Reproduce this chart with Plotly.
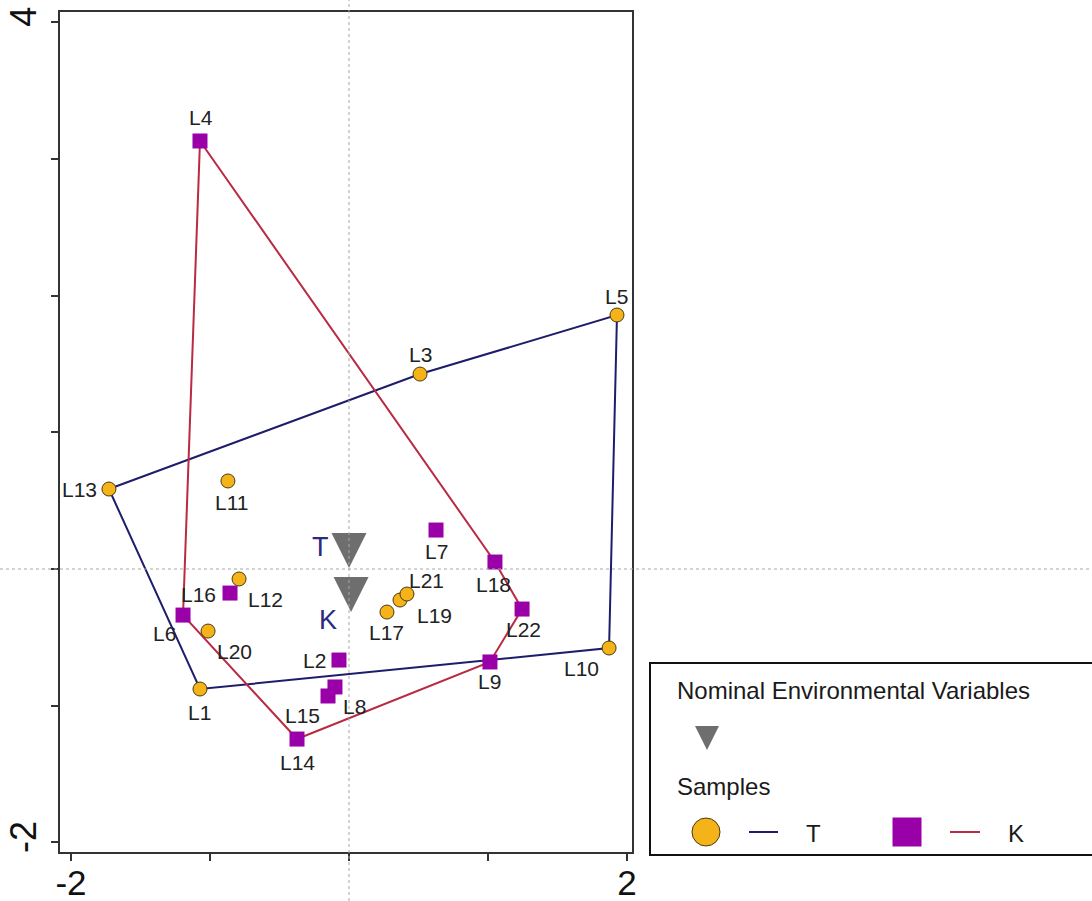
import plotly.graph_objects as go

# ---------------- data ----------------
t_names = ["L1", "L3", "L5", "L10", "L11", "L12", "L13", "L17", "L19", "L20", "L21"]
t_x = [-1.072, 0.511, 1.928, 1.871, -0.871, -0.791, -1.727, 0.273, 0.367, -1.014, 0.417]
t_y = [-0.878, 1.426, 1.858, -0.578, 0.644, -0.073, 0.585, -0.315, -0.227, -0.454, -0.183]

k_names = ["L2", "L4", "L6", "L7", "L8", "L9", "L14", "L15", "L16", "L18", "L22"]
k_x = [-0.072, -1.072, -1.194, 0.626, -0.101, 1.014, -0.374, -0.151, -0.856, 1.050, 1.245]
k_y = [-0.666, 3.131, -0.337, 0.285, -0.863, -0.680, -1.244, -0.929, -0.176, 0.051, -0.293]

t_hull = ["L13", "L3", "L5", "L10", "L1", "L13"]
k_hull = ["L4", "L18", "L22", "L9", "L14", "L6", "L4"]

env_names = ["T", "K"]
env_x = [0.0, 0.015]
env_y = [0.007, -0.315]

x_ticks = [-2, -1, 0, 1, 2]
x_ticktext = ["-2", "", "", "", "2"]
y_ticks = [-2, -1, 0, 1, 2, 3, 4]
y_ticktext = ["-2", "", "", "", "", "", "4"]

# ---------------- styles ----------------
FONT = "Liberation Sans, Arial, sans-serif"
C_CIRCLE = "#F5B31A"
C_SQUARE = "#9A00A8"
C_TLINE = "#1d1d6b"
C_KLINE = "#b92a43"
C_TRI = "#6e6e6e"
C_ENVTXT = "#2b2b7d"

label_offsets = {  # pixel offsets (dx, dy) from point centre to label centre
    "L1": (0, 23), "L2": (-24, 0), "L3": (0, -20), "L4": (1, -23), "L5": (0, -19),
    "L6": (-19, 18), "L7": (0, 21), "L8": (20, 20), "L9": (0, 20), "L10": (-28, 20),
    "L11": (4, 22), "L12": (26, 21), "L13": (-29, 0), "L14": (0, 23), "L15": (-26, 20),
    "L16": (-32, 1), "L17": (0, 20), "L18": (-1, 22), "L19": (34, 15), "L20": (26, 20),
    "L21": (20, -14), "L22": (1, 20),
}
env_label_offsets = {"T": (-29, -21), "K": (-23, 8)}

W, H = 1092, 901
PL, PR, PT, PB = 60, 632, 12, 852  # plot frame in pixels
X0PX, XUNIT = 349, 139.0
Y0PX, YUNIT = 569, 136.7

fig = go.Figure()

pos = {n: (x, y) for n, x, y in zip(t_names, t_x, t_y)}
pos.update({n: (x, y) for n, x, y in zip(k_names, k_x, k_y)})

# zero lines (dotted)
fig.add_shape(type="line", xref="x", yref="paper", x0=0, x1=0, y0=0, y1=1,
              line=dict(color="#a8a8a8", width=1, dash="dot"))
fig.add_shape(type="line", xref="paper", yref="y", x0=0, x1=1, y0=0, y1=0,
              line=dict(color="#a8a8a8", width=1, dash="dot"))

# hulls
fig.add_trace(go.Scatter(x=[pos[n][0] for n in t_hull], y=[pos[n][1] for n in t_hull],
                         mode="lines", line=dict(color=C_TLINE, width=2), hoverinfo="skip"))
fig.add_trace(go.Scatter(x=[pos[n][0] for n in k_hull], y=[pos[n][1] for n in k_hull],
                         mode="lines", line=dict(color=C_KLINE, width=2), hoverinfo="skip"))

# samples
fig.add_trace(go.Scatter(x=t_x, y=t_y, mode="markers", text=t_names,
                         marker=dict(symbol="circle", size=14, color=C_CIRCLE,
                                     line=dict(color="#4a3a10", width=1))))
fig.add_trace(go.Scatter(x=k_x, y=k_y, mode="markers", text=k_names,
                         marker=dict(symbol="square", size=15, color=C_SQUARE,
                                     line=dict(color=C_SQUARE, width=0))))

# nominal environmental variables
fig.add_trace(go.Scatter(x=env_x, y=env_y, mode="markers", text=env_names,
                         marker=dict(symbol="arrow-down", size=35, color=C_TRI,
                                     line=dict(width=0))))

annotations = []
for n, (x, y) in pos.items():
    dx, dy = label_offsets[n]
    annotations.append(dict(x=x, y=y, xref="x", yref="y", text=n, showarrow=False,
                            xshift=dx, yshift=-dy, xanchor="center", yanchor="middle",
                            font=dict(family=FONT, size=21, color="#222222")))
for n, x, y in zip(env_names, env_x, env_y):
    dx, dy = env_label_offsets[n]
    annotations.append(dict(x=x, y=y, xref="x", yref="y", text=n, showarrow=False,
                            xshift=dx, yshift=-dy, xanchor="center", yanchor="middle",
                            font=dict(family=FONT, size=27, color=C_ENVTXT)))

# ---------------- legend (drawn in a pixel-coordinate overlay subplot) ----------------
# open box: the right side runs off the picture edge
fig.add_shape(type="path", xref="x2", yref="y2",
              path="M 1110,663 L 650,663 L 650,855 L 1110,855",
              line=dict(color="#111111", width=2), fillcolor="rgba(0,0,0,0)")
fig.add_trace(go.Scatter(x=[707], y=[750], xaxis="x2", yaxis="y2", mode="markers",
                         marker=dict(symbol="arrow-down", size=24, color=C_TRI, line=dict(width=0)),
                         hoverinfo="skip"))
fig.add_trace(go.Scatter(x=[706], y=[832], xaxis="x2", yaxis="y2", mode="markers",
                         marker=dict(symbol="circle", size=28, color=C_CIRCLE,
                                     line=dict(color="#4a3a10", width=1)), hoverinfo="skip"))
fig.add_trace(go.Scatter(x=[749, 778], y=[832, 832], xaxis="x2", yaxis="y2",
                         mode="lines", line=dict(color=C_TLINE, width=2), hoverinfo="skip"))
fig.add_trace(go.Scatter(x=[907], y=[832], xaxis="x2", yaxis="y2", mode="markers",
                         marker=dict(symbol="square", size=29, color=C_SQUARE, line=dict(width=0)),
                         hoverinfo="skip"))
fig.add_trace(go.Scatter(x=[950, 980], y=[832, 832], xaxis="x2", yaxis="y2",
                         mode="lines", line=dict(color=C_KLINE, width=2), hoverinfo="skip"))
for txt, x, y, anchor in [("Nominal Environmental Variables", 675, 690, "left"),
                          ("Samples", 675, 786, "left"),
                          ("T", 813, 833, "center"), ("K", 1016, 833, "center")]:
    annotations.append(dict(x=x, y=y, xref="x2", yref="y2", text=txt, showarrow=False,
                            xanchor=anchor, yanchor="middle",
                            font=dict(family=FONT, size=24, color="#1a1a1a")))

xr = [(PL - X0PX) / XUNIT, (PR - X0PX) / XUNIT]
yr = [(Y0PX - PB) / YUNIT, (Y0PX - PT) / YUNIT]

axis_common = dict(showline=True, mirror=True, linecolor="#333333", linewidth=1.5,
                   showgrid=False, zeroline=False, ticks="outside", ticklen=7,
                   tickcolor="#333333", tickwidth=1.5, automargin=False,
                   ticklabeloverflow="allow")

fig.update_layout(
    width=W, height=H,
    margin=dict(l=0, r=0, t=0, b=0),
    paper_bgcolor="white", plot_bgcolor="rgba(0,0,0,0)",
    showlegend=False,
    xaxis=dict(domain=[PL / W, PR / W], range=xr, tickvals=x_ticks, ticktext=x_ticktext,
               ticklabelstandoff=-8, tickfont=dict(family=FONT, size=35, color="#111111"),
               **axis_common),
    yaxis=dict(domain=[(H - PB) / H, (H - PT) / H], range=yr, tickvals=y_ticks,
               ticktext=y_ticktext, tickangle=-90, ticklabelstandoff=1,
               tickfont=dict(family=FONT, size=36, color="#111111"), **axis_common),
    xaxis2=dict(domain=[0, 1], range=[0, W], visible=False, anchor="y2", fixedrange=True),
    yaxis2=dict(domain=[0, 1], range=[H, 0], visible=False, anchor="x2", fixedrange=True),
    annotations=annotations,
)

fig.write_html("out.html",
               config={"displayModeBar": False},
               post_script="document.body.style.margin='0px';"
                           "document.body.style.overflow='hidden';")
